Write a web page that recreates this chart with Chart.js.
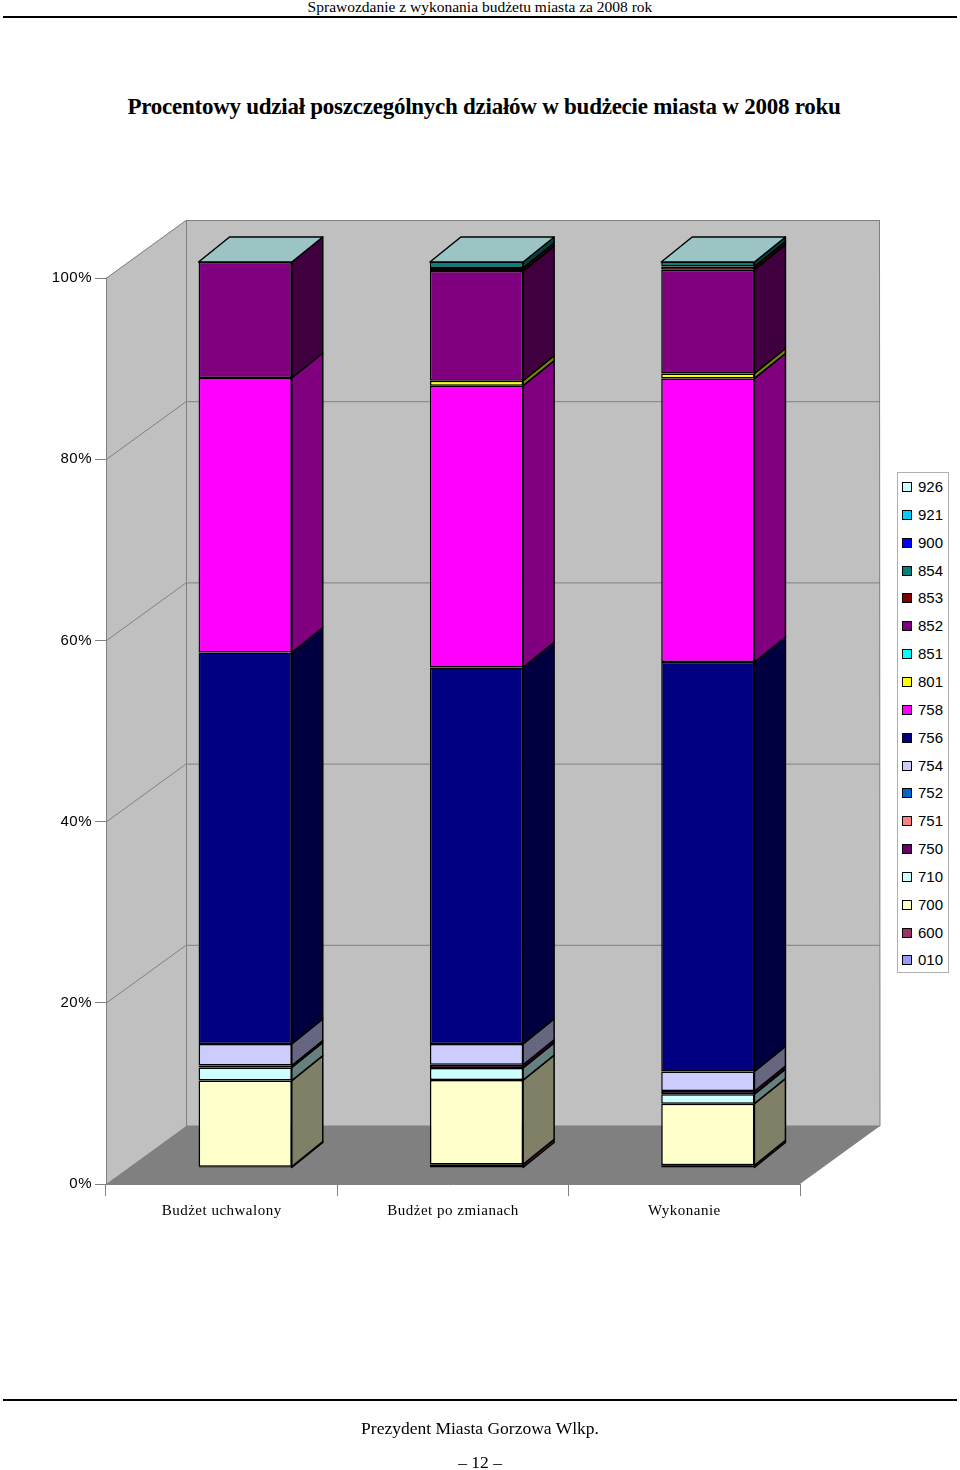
<!DOCTYPE html>
<html><head><meta charset="utf-8">
<script src="https://cdn.jsdelivr.net/npm/chart.js@4.4.0/dist/chart.umd.min.js"></script>
<style>
body{margin:0;background:#fff;width:960px;height:1470px;position:relative;overflow:hidden;font-family:'Liberation Serif','Times New Roman',serif;color:#000;}
#c{position:absolute;left:0;top:0;}
.hdr{position:absolute;left:0;width:960px;text-align:center;top:-2px;font-size:15.5px;}
.line{position:absolute;left:3px;width:954px;height:0;border-top:2px solid #000;}
.title{position:absolute;left:0;width:968px;text-align:center;top:94px;font-size:23px;font-weight:bold;letter-spacing:-0.25px;}
.foot{position:absolute;left:0;width:960px;text-align:center;font-size:17.5px;}
#legend{position:absolute;left:897px;top:472px;width:50px;height:499px;border:1px solid #b0b0b0;background:#fff;font-family:'Liberation Sans',Arial,sans-serif;font-size:15px;}
.li{position:absolute;left:4px;height:18px;line-height:18px;white-space:nowrap;}
.sw{display:inline-block;width:8px;height:8px;border:1px solid #000;margin-right:6px;vertical-align:0px;}
</style></head>
<body>
<div class="hdr">Sprawozdanie z wykonania budżetu miasta za 2008 rok</div>
<div class="line" style="top:16px"></div>
<div class="title">Procentowy udział poszczególnych działów w budżecie miasta w 2008 roku</div>
<canvas id="c" width="960" height="1470"></canvas>
<div id="legend"></div>
<div class="line" style="top:1399px"></div>
<div class="foot" style="top:1418px">Prezydent Miasta Gorzowa Wlkp.</div>
<div class="foot" style="top:1452px">– 12 –</div>
<script>
// ---- data ----
const categories = ['Budżet uchwalony', 'Budżet po zmianach', 'Wykonanie'];
const codes  = ['010','600','700','710','750','751','752','754','756','758','801','851','852','853','854','900','921','926'];
const colors = ['#9999FF','#993366','#FFFFCC','#CCFFFF','#660066','#FF8080','#0066CC','#CCCCFF','#000080','#FF00FF','#FFFF00','#00FFFF','#800080','#800000','#008080','#0000FF','#00CCFF','#CCFFFF'];
const s010 = [0, 0, 0];
const s600 = [0.15, 0.4, 0.3];
const s700 = [9.5, 9.3, 6.8];
const s710 = [1.45, 1.35, 1.05];
const s750 = [0.2, 0.35, 0.35];
const s751 = [0, 0, 0];
const s752 = [0, 0, 0];
const s754 = [2.4, 2.3, 2.15];
const s756 = [43.2, 41.55, 45.2];
const s758 = [30.3, 31.1, 31.3];
const s801 = [0, 0.55, 0.55];
const s851 = [0, 0, 0];
const s852 = [12.8, 12.1, 11.45];
const s853 = [0, 0.35, 0.35];
const s854 = [0, 0.65, 0.5];
const s900 = [0, 0, 0];
const s921 = [0, 0, 0];
const s926 = [0, 0, 0];
const series = [s010,s600,s700,s710,s750,s751,s752,s754,s756,s758,s801,s851,s852,s853,s854,s900,s921,s926];
const yTicks = [0, 20, 40, 60, 80, 100];

// ---- legend (HTML, reversed order) ----
const lg = document.getElementById('legend');
for (let i = codes.length - 1, k = 0; i >= 0; i--, k++) {
  const d = document.createElement('div');
  d.className = 'li';
  d.style.top = (5 + k * 27.85) + 'px';
  d.innerHTML = '<span class="sw" style="background:' + colors[i] + '"></span>' + codes[i];
  lg.appendChild(d);
}

function darken(hex, f) {
  const n = parseInt(hex.slice(1), 16);
  const r = Math.round(((n >> 16) & 255) * f), g = Math.round(((n >> 8) & 255) * f), b = Math.round((n & 255) * f);
  return 'rgb(' + r + ',' + g + ',' + b + ')';
}

const DEPTH = {x: 80, y: -58};     // wall depth
const BAR_OFF = {x: 23.5, y: -16}; // bar front plane offset
const BAR_D = {x: 31, y: -25};     // bar depth

const walls = {
  id: 'walls',
  beforeDraw(chart) {
    const {ctx, chartArea: a} = chart;
    const ys = chart.scales.y;
    const y0 = ys.getPixelForValue(0), y1 = ys.getPixelForValue(100);
    ctx.letterSpacing = '0.5px';
    ctx.save();
    ctx.fillStyle = '#c0c0c0';
    ctx.fillRect(a.left + DEPTH.x, y1 + DEPTH.y, a.right - a.left, y0 - y1);
    ctx.beginPath();
    ctx.moveTo(a.left, y1); ctx.lineTo(a.left + DEPTH.x, y1 + DEPTH.y);
    ctx.lineTo(a.left + DEPTH.x, y0 + DEPTH.y); ctx.lineTo(a.left, y0); ctx.closePath();
    ctx.fill();
    ctx.fillStyle = '#808080';
    ctx.beginPath();
    ctx.moveTo(a.left, y0); ctx.lineTo(a.left + DEPTH.x, y0 + DEPTH.y);
    ctx.lineTo(a.right + DEPTH.x, y0 + DEPTH.y); ctx.lineTo(a.right, y0); ctx.closePath();
    ctx.fill();
    ctx.strokeStyle = '#808080';
    ctx.lineWidth = 1;
    yTicks.forEach(v => {
      if (v === 0) return;
      const y = ys.getPixelForValue(v);
      ctx.beginPath();
      ctx.moveTo(a.left, y + 0.5);
      ctx.lineTo(a.left + DEPTH.x, y + DEPTH.y + 0.5);
      ctx.lineTo(a.right + DEPTH.x, y + DEPTH.y + 0.5);
      ctx.stroke();
    });
    ctx.beginPath();
    ctx.moveTo(a.left + DEPTH.x + 0.5, y1 + DEPTH.y);
    ctx.lineTo(a.left + DEPTH.x + 0.5, y0 + DEPTH.y);
    ctx.lineTo(a.right + DEPTH.x, y0 + DEPTH.y);
    ctx.lineTo(a.right + DEPTH.x - 0.5, y1 + DEPTH.y);
    ctx.stroke();
    ctx.restore();
  }
};

const bars3d = {
  id: 'bars3d',
  beforeDatasetsDraw(chart) {
    chart.ctx.save();
    chart.ctx.translate(BAR_OFF.x, BAR_OFF.y);
  },
  afterDatasetsDraw(chart) {
    const ctx = chart.ctx;
    ctx.lineWidth = 1.5;
    ctx.strokeStyle = '#000';
    ctx.lineJoin = 'round';
    const tops = {};
    chart.data.datasets.forEach((ds, di) => {
      const meta = chart.getDatasetMeta(di);
      meta.data.forEach((el, i) => {
        if (!(ds.data[i] > 0)) return;
        const p = el.getProps(['x', 'y', 'base', 'width'], true);
        const right = p.x + p.width / 2, left = p.x - p.width / 2;
        ctx.fillStyle = darken(colors[di], 0.5);
        ctx.beginPath();
        ctx.moveTo(right, p.y);
        ctx.lineTo(right + BAR_D.x, p.y + BAR_D.y);
        ctx.lineTo(right + BAR_D.x, p.base + BAR_D.y);
        ctx.lineTo(right, p.base);
        ctx.closePath();
        ctx.fill(); ctx.stroke();
        if (!tops[i] || p.y < tops[i].y) tops[i] = {y: p.y, left, right};
      });
    });
    Object.values(tops).forEach(t => {
      ctx.fillStyle = '#9cc4c4';
      ctx.beginPath();
      ctx.moveTo(t.left, t.y);
      ctx.lineTo(t.left + BAR_D.x, t.y + BAR_D.y);
      ctx.lineTo(t.right + BAR_D.x, t.y + BAR_D.y);
      ctx.lineTo(t.right, t.y);
      ctx.closePath();
      ctx.fill(); ctx.stroke();
    });
    ctx.restore();
  }
};

new Chart(document.getElementById('c'), {
  type: 'bar',
  data: {
    labels: categories,
    datasets: codes.map((c, i) => ({
      label: c,
      data: series[i],
      backgroundColor: colors[i],
      borderColor: '#000',
      borderWidth: ctx => (ctx.raw > 0 ? 1.5 : 0),
      borderSkipped: false,
      categoryPercentage: 1,
      barPercentage: 0.403
    }))
  },
  options: {
    responsive: false,
    animation: false,
    devicePixelRatio: 1,
    layout: {padding: {left: 0, top: 278, right: 160, bottom: 246}},
    plugins: {legend: {display: false}, tooltip: {enabled: false}},
    events: [],
    scales: {
      x: {
        stacked: true,
        grid: {drawOnChartArea: false, drawTicks: true, tickLength: 12, offset: true, color: '#808080'},
        border: {display: true, color: '#808080'},
        ticks: {color: '#000', font: {family: 'Liberation Serif', size: 15}, padding: 6, maxRotation: 0},
        afterFit(s) { s.height = 40; }
      },
      y: {
        stacked: true,
        min: 0, max: 100,
        afterBuildTicks(s) { s.ticks = yTicks.map(v => ({value: v})); },
        grid: {drawOnChartArea: false, drawTicks: true, tickLength: 11, color: '#808080'},
        border: {display: true, color: '#808080'},
        ticks: {color: '#000', font: {family: 'Liberation Sans', size: 15}, padding: 3, callback: v => v + '%'},
        afterFit(s) { s.width = 106; }
      }
    }
  },
  plugins: [walls, bars3d]
});
</script>
</body></html>
